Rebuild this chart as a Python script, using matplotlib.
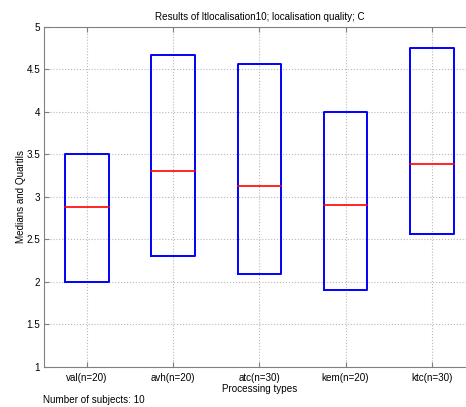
import matplotlib
matplotlib.use("Agg")
import matplotlib.pyplot as plt
import numpy as np

# Quartiles and medians per processing type
labels = ["val(n=20)", "avh(n=20)", "atc(n=30)", "kem(n=20)", "ktc(n=30)"]
q_low = [2.0, 2.3, 2.09, 1.9, 2.56]
medians = [2.875, 3.3, 3.125, 2.9, 3.385]
q_high = [3.5, 4.667, 4.563, 4.0, 4.75]
yticks = [1, 1.5, 2, 2.5, 3, 3.5, 4, 4.5, 5]
n_subjects = 10

plt.rcParams['font.family'] = ['Liberation Sans', 'DejaVu Sans']
plt.rcParams['font.size'] = 7.1

fig = plt.figure(figsize=(4.66, 4.07), dpi=100)
ax = fig.add_axes([0.0938, 0.0983, 0.9255, 0.836])

xs = np.arange(1, len(labels) + 1)
half_w = 0.253
for x, lo, med, hi in zip(xs, q_low, medians, q_high):
    ax.plot([x - half_w, x + half_w, x + half_w, x - half_w, x - half_w],
            [lo, lo, hi, hi, lo], color='#0000ff', lw=1.4, zorder=3)
    ax.plot([x - half_w, x + half_w], [med, med], color='#ff0000', lw=1.2, zorder=4)

ax.set_xlim(0.5, 5.5)
ax.set_ylim(1, 5)
ax.set_xticks(xs)
ax.set_xticklabels(labels)
ax.set_yticks(yticks)
ax.set_yticklabels([f"{t:g}" for t in yticks])
ax.grid(True, linestyle=':', color='#b8b8b8', linewidth=0.8)
ax.tick_params(direction='in', length=3.5, color='#808080', top=True, right=True)
ax.tick_params(axis='y', pad=2.5)
ax.tick_params(axis='x', pad=4)
for s in ax.spines.values():
    s.set_color('#808080')
    s.set_linewidth(0.8)

ax.set_title("Results of ltlocalisation10; localisation quality; C", fontsize=7.1, pad=5)
ax.set_xlabel("Processing types", labelpad=1)
ax.set_ylabel("Medians and Quartils")
ax.yaxis.set_label_coords(-0.04, 0.5)
fig.text(43 / 466, 1 - 403 / 407, f"Number of subjects: {n_subjects}", va='baseline', ha='left')

fig.savefig("out.png", dpi=100)
